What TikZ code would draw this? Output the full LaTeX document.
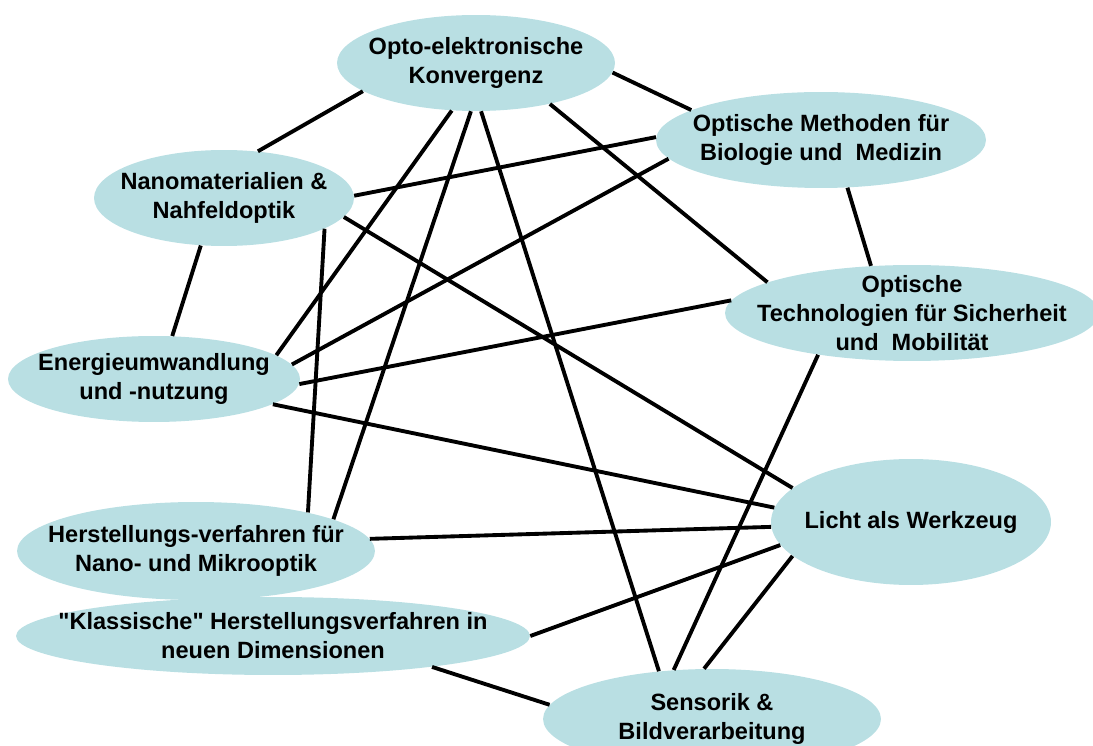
\documentclass[tikz,border=0pt]{standalone}
\usepackage{fontspec}
\setmainfont{Liberation Sans}[Ligatures=TeXOff]
\usetikzlibrary{shapes.geometric}
\definecolor{topicblue}{RGB}{185,223,227}

\begin{document}
\begin{tikzpicture}[
        x=0.02cm, y=-0.02cm,
        topic/.style={ellipse, fill=topicblue, inner sep=-2cm, align=center,
            font=\fontsize{13.4}{16.5}\selectfont\bfseries},
        link/.style={line width=2.2pt},
    ]
    \useasboundingbox (0,0) rectangle (1093,746);
    \clip (0,0) rectangle (1093,746);
    % topics
    \node[topic, minimum width=5.56cm, minimum height=1.92cm] (opto) at (476,63) {Opto-elektronische\\Konvergenz};
    \node[topic, minimum width=5.2cm, minimum height=1.92cm] (nano) at (224,198) {Nanomaterialien \&\\Nahfeldoptik};
    \node[topic, minimum width=6.6cm, minimum height=1.92cm] (meth) at (821,140) {Optische Methoden für\\Biologie und\ \ Medizin};
    \node[topic, minimum width=7.48cm, minimum height=1.92cm] (sich) at (912,313) {Optische\\Technologien für Sicherheit\\und\ \ Mobilität};
    \node[topic, minimum width=5.84cm, minimum height=1.72cm] (ener) at (154,379) {Energieumwandlung\\und -nutzung};
    \node[topic, minimum width=7.16cm, minimum height=1.96cm] (hers) at (196,551) {Herstellungs-verfahren für\\Nano- und Mikrooptik};
    \node[topic, minimum width=10.28cm, minimum height=1.56cm] (klas) at (273,636) {"Klassische" Herstellungsverfahren in\\neuen Dimensionen};
    \node[topic, minimum width=5.6cm, minimum height=2.52cm] (licht) at (911,522) {Licht als Werkzeug};
    \node[topic, minimum width=6.76cm, minimum height=2cm] (sens) at (712,719) {Sensorik \&\\Bildverarbeitung};
    % links
    \draw[link] (opto.194) -- (nano.54);
    \draw[link] (opto.356) -- (meth.167);
    \draw[link] (opto.243) -- (ener.11.5);
    \draw[link] (opto.264) -- (hers.13.4);
    \draw[link] (opto.276) -- (sens.138);
    \draw[link] (opto.331) -- (sich.168.7);
    \draw[link] (nano.1.3) -- (meth.179.3);
    \draw[link] (nano.351) -- (licht.164.7);
    \draw[link] (nano.343.6) -- (hers.19);
    \draw[link] (nano.244.4) -- (ener.67.3);
    \draw[link] (meth.187.3) -- (ener.6.4);
    \draw[link] (meth.299) -- (sich.131);
    \draw[link] (sich.176.5) -- (ener.358.4);
    \draw[link] (sich.204.7) -- (sens.128);
    \draw[link] (ener.348.6) -- (licht.174.7);
    \draw[link] (hers.4.7) -- (licht.182);
    \draw[link] (klas.0) -- (licht.190.5);
    \draw[link] (klas.349.4) -- (sens.175);
    \draw[link] (licht.196) -- (sens.99);
\end{tikzpicture}
\end{document}
